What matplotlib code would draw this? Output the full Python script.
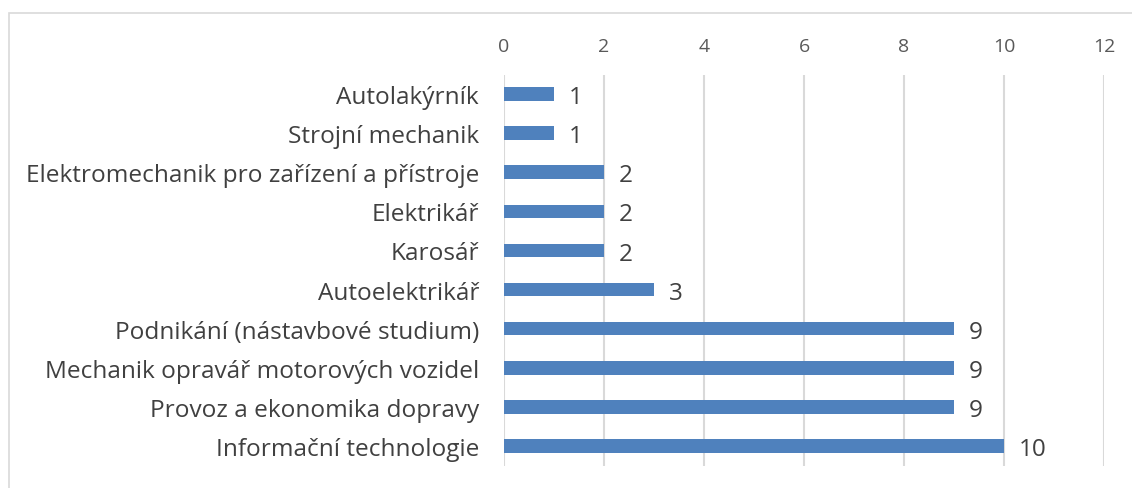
import matplotlib
matplotlib.use("Agg")
import matplotlib.pyplot as plt
from matplotlib.patches import Rectangle

categories = ["Autolakýrník", "Strojní mechanik", "Elektromechanik pro zařízení a přístroje",
              "Elektrikář", "Karosář", "Autoelektrikář", "Podnikání (nástavbové studium)",
              "Mechanik opravář motorových vozidel", "Provoz a ekonomika dopravy",
              "Informační technologie"]
values = [1, 1, 2, 2, 2, 3, 9, 9, 9, 10]
xticks = [0, 2, 4, 6, 8, 10, 12]

W, H = 1132, 489
fig = plt.figure(figsize=(W/100, H/100), dpi=100)
plt.rcParams['font.family'] = ['Open Sans', 'DejaVu Sans']

# outer border (top and left visible)
fig.patches.append(Rectangle((9/W, -0.1), 1.2, 1 - 14/489 + 0.1, transform=fig.transFigure,
                             fill=False, edgecolor='#d9d9d9', linewidth=1.2))

ax = fig.add_axes([504/W, 1 - 466.5/H, 600/W, 391/H])
y = list(range(len(categories)))
ax.barh(y, values, height=0.35, color='#4f81bd', zorder=3)
ax.set_ylim(len(categories) - 0.5, -0.5)
ax.set_xlim(0, 12)
ax.set_xticks(xticks)
ax.set_xticklabels([str(t) for t in xticks])
ax.xaxis.tick_top()
ax.tick_params(axis='x', length=0, pad=14, labelsize=14, labelcolor='#595959')
ax.set_yticks(y)
ax.set_yticklabels(categories)
ax.tick_params(axis='y', length=0, pad=18, labelsize=17.6, labelcolor='#404040')
ax.grid(axis='x', color='#d9d9d9', linewidth=1.5, zorder=0)
for s in ax.spines.values():
    s.set_visible(False)
for yi, v in zip(y, values):
    ax.text(v + 0.3, yi + 0.08, str(v), va='center', ha='left', fontsize=17.5, color='#404040')

fig.savefig("out.png", dpi=100)
